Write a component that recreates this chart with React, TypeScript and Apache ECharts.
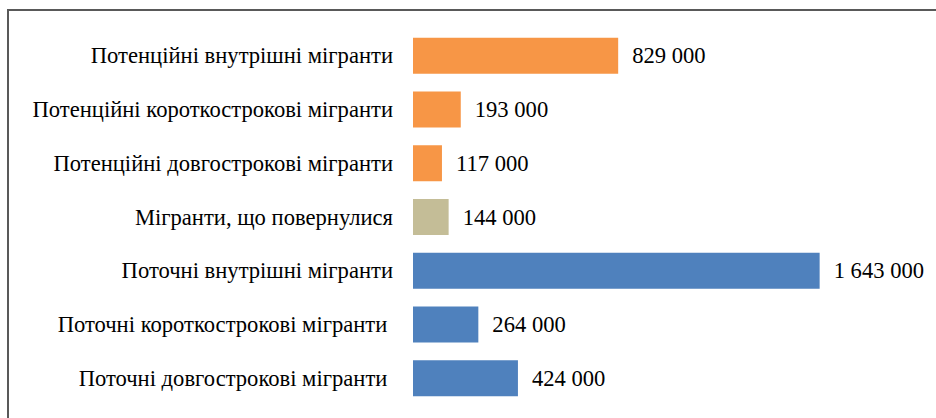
import React, { useEffect, useRef } from "react";
import * as echarts from "echarts";

const categories = [
  "Потенційні внутрішні мігранти",
  "Потенційні короткострокові мігранти",
  "Потенційні довгострокові мігранти",
  "Мігранти, що повернулися",
  "Поточні внутрішні мігранти",
  "Поточні короткострокові мігранти ",
  "Поточні довгострокові мігранти ",
];
const values = [829000, 193000, 117000, 144000, 1643000, 264000, 424000];
const groups = ["potential", "potential", "potential", "returned", "current", "current", "current"];
const groupColors: Record<string, string> = {
  potential: "#F79646",
  returned: "#C4BD97",
  current: "#4F81BD",
};

const fmt = (v: number) => String(v).replace(/\B(?=(\d{3})+(?!\d))/g, " ");

export default function App() {
  const ref = useRef<HTMLDivElement>(null);
  useEffect(() => {
    if (!ref.current) return;
    const chart = echarts.init(ref.current, undefined, { renderer: "svg" });
    const font = "Liberation Serif";
    chart.setOption({
      animation: false,
      backgroundColor: "#ffffff",
      textStyle: { fontFamily: font },
      graphic: [
        {
          type: "rect",
          shape: { x: 8, y: 10, width: 1200, height: 600 },
          style: { fill: "none", stroke: "#595959", lineWidth: 2 },
          silent: true,
        },
      ],
      grid: { left: 413, top: 29, height: 376, width: 495, containLabel: false },
      xAxis: {
        type: "value",
        min: 0,
        max: 2000000,
        show: false,
      },
      yAxis: {
        type: "category",
        inverse: true,
        data: categories,
        axisLine: { show: false },
        axisTick: { show: false },
        axisLabel: {
          margin: 20,
          color: "#000000",
          fontFamily: font,
          fontSize: 22.6,
        },
      },
      series: [
        {
          type: "bar",
          barCategoryGap: "33%",
          data: values.map((v, i) => ({
            value: v,
            itemStyle: { color: groupColors[groups[i]] },
          })),
          label: {
            show: true,
            position: "right",
            distance: 14,
            color: "#000000",
            fontFamily: font,
            fontSize: 22.6,
            formatter: (p: any) => fmt(p.value),
          },
        },
      ],
    });
    return () => chart.dispose();
  }, []);
  return (
    <div
      ref={ref}
      style={{ position: "absolute", left: 0, top: 0, width: 936, height: 418 }}
    />
  );
}
